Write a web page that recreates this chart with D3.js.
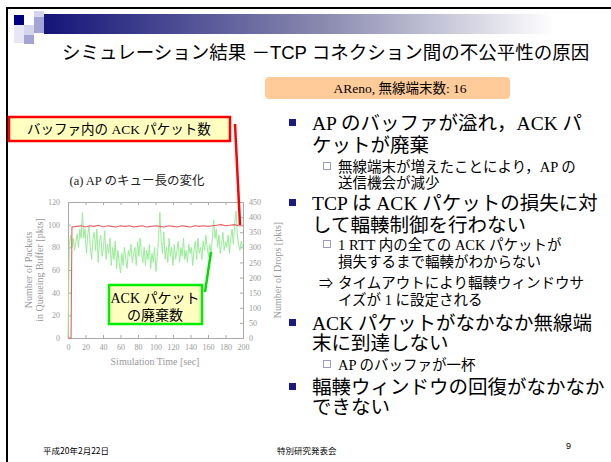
<!DOCTYPE html>
<html><head><meta charset="utf-8">
<script src="https://cdn.jsdelivr.net/npm/d3@7"></script>
<style>html,body{margin:0;padding:0;background:#fff;}svg{display:block;}</style>
</head><body>
<script>
// ---- data ----
const xTicks = [0,20,40,60,80,100,120,140,160,180,200];
const yLeftTicks = [0,20,40,60,80,100,120];
const yRightTicks = [0,50,100,150,200,250,300,350,400,450];
// queue length (left axis)
const redTime = [0,3.5,4.5,10,15,20,25,30,35,40,45,50,55,60,65,70,75,80,85,90,95,100,105,110,115,120,125,130,135,140,145,150,155,160,165,170,175,180,185,190,195,200];
const redVal  = [0,0,98,98.5,99,98,99,98.5,99.5,98,99,98.5,98,99,98.5,99,98,98.5,99,98,98.5,99,98.5,98,99,98.5,98,99,98.5,98,99,98.5,99,98.5,99,99.5,100,99,99.5,100,99,99];
// ACK drops (right axis), one value every 1.5 s
const greenVal = [0,
 310,340,300,330,290,320,345,300,360,330,
 415,330,360,280,340,370,300,260,330,350,
 290,360,250,320,340,270,300,355,260,310,
 280,330,240,300,260,320,230,290,250,215,
 280,240,300,260,230,290,270,310,250,280,
 300,240,320,270,330,280,250,300,240,290,
 260,310,230,280,250,300,220,270,330,415,
 320,280,350,260,300,250,330,270,300,240,
 310,260,290,320,250,300,270,330,260,290,
 250,310,280,300,240,290,320,260,330,280,
 300,260,320,290,340,300,270,310,280,330,
 390,330,360,300,340,280,310,350,290,320,
 300,340,280,330,360,310,380,420,340,310,
 290,320,300];
const greenTime = greenVal.map((d,i)=>i*1.5);

const W=611,H=462;
const svg = d3.select("body").append("svg").attr("width",W).attr("height",H);
const JP = "'Noto Sans CJK JP', sans-serif";
const SERIF = "'Liberation Serif', 'Noto Sans CJK JP', serif";
const SANS = "'Liberation Sans', 'Noto Sans CJK JP', sans-serif";

// ---- slide frame ----
svg.append("rect").attr("x",6).attr("y",7).attr("width",W-6).attr("height",2).attr("fill","#000");
svg.append("rect").attr("x",6).attr("y",7).attr("width",2).attr("height",H-7).attr("fill","#000");
const grad = svg.append("defs").append("linearGradient").attr("id","g1");
grad.append("stop").attr("offset","0%").attr("stop-color","#14147a");
grad.append("stop").attr("offset","55%").attr("stop-color","#8a8ab0");
grad.append("stop").attr("offset","100%").attr("stop-color","#ffffff");
svg.append("rect").attr("x",44).attr("y",14).attr("width",510).attr("height",20).attr("fill","url(#g1)");
const sq = [[14,15,10,10,"#000080"],[34,11,10,6,"#d4d4ec"],[34,17,10,16,"#a4a4d4"],[24,25,10,10,"#d4d4ec"],[14,25,10,18,"#e6e6f4"],[24,35,10,9,"#a4a4d4"]];
sq.forEach(s=>svg.append("rect").attr("x",s[0]).attr("y",s[1]).attr("width",s[2]).attr("height",s[3]).attr("fill",s[4]));

svg.append("text").attr("x",62).attr("y",59).attr("font-family",SANS).attr("font-size",18.5).attr("fill","#000")
  .text("シミュレーション結果 －TCP コネクション間の不公平性の原因");

// orange label
svg.append("rect").attr("x",265).attr("y",77).attr("width",245).attr("height",22).attr("rx",4).attr("fill","#ffcc99");
svg.append("text").attr("x",400).attr("y",93).attr("text-anchor","middle").attr("font-family",SERIF).attr("font-size",13.5).text("AReno, 無線端末数: 16");

// ---- chart ----
const x = d3.scaleLinear().domain([0,200]).range([68,243]);
const yL = d3.scaleLinear().domain([0,120]).range([338,202]);
const yR = d3.scaleLinear().domain([0,450]).range([338,202]);
const axisCol = "#aaa", txtCol="#999";
const g = svg.append("g");
g.append("text").attr("x",137).attr("y",185).attr("text-anchor","middle").attr("font-family",SERIF).attr("font-size",12.5).attr("fill","#222").text("(a) AP のキュー長の変化");

function styleAxis(sel){
  sel.selectAll("path").attr("stroke",axisCol);
  sel.selectAll("line").attr("stroke",axisCol);
  sel.selectAll("text").attr("fill",txtCol).attr("font-family",SERIF).attr("font-size",8);
}
g.append("g").attr("transform","translate(0,338)").call(d3.axisBottom(x).tickValues(xTicks).tickSize(-3).tickSizeOuter(0).tickPadding(6)).call(styleAxis);
g.append("g").attr("transform","translate(0,202)").call(d3.axisTop(x).tickValues(xTicks).tickSize(-3).tickSizeOuter(0).tickFormat("")).call(styleAxis);
g.append("g").attr("transform","translate(68,0)").call(d3.axisLeft(yL).tickValues(yLeftTicks).tickSize(-3).tickSizeOuter(0).tickPadding(8)).call(styleAxis);
g.append("g").attr("transform","translate(243,0)").call(d3.axisRight(yR).tickValues(yRightTicks).tickSize(-3).tickSizeOuter(0).tickPadding(6)).call(styleAxis);

g.append("path").datum(greenTime.map((t,i)=>[t,greenVal[i]]))
  .attr("d",d3.line().x(d=>x(d[0])).y(d=>yR(d[1]))).attr("fill","none").attr("stroke","#98ec98").attr("stroke-width",1);
g.append("path").datum(redTime.map((t,i)=>[t,redVal[i]]))
  .attr("d",d3.line().x(d=>x(d[0])).y(d=>yL(d[1]))).attr("fill","none").attr("stroke","#e86060").attr("stroke-width",1.1);

g.append("text").attr("x",155).attr("y",365).attr("text-anchor","middle").attr("font-family",SERIF).attr("font-size",10).attr("fill",txtCol).text("Simulation Time [sec]");
g.append("text").attr("transform","translate(32,270) rotate(-90)").attr("text-anchor","middle").attr("font-family",SERIF).attr("font-size",10).attr("fill",txtCol).text("Number of Packets");
g.append("text").attr("transform","translate(43,270) rotate(-90)").attr("text-anchor","middle").attr("font-family",SERIF).attr("font-size",10).attr("fill",txtCol).text("in Queueing Buffer [pkts]");
g.append("text").attr("transform","translate(281,270) rotate(-90)").attr("text-anchor","middle").attr("font-family",SERIF).attr("font-size",10).attr("fill",txtCol).text("Number of Drops [pkts]");

// callouts
svg.append("line").attr("x1",235).attr("y1",124).attr("x2",240).attr("y2",225).attr("stroke","#ff0000").attr("stroke-width",2.5);
svg.append("rect").attr("x",9).attr("y",117).attr("width",221).attr("height",24).attr("fill","#ffffc0").attr("stroke","#ff0000").attr("stroke-width",2.5);
svg.append("text").attr("x",119).attr("y",134).attr("text-anchor","middle").attr("font-family",SERIF).attr("font-size",13.5).text("バッファ内の ACK パケット数");

svg.append("line").attr("x1",205).attr("y1",292).attr("x2",211).attr("y2",252).attr("stroke","#00dd00").attr("stroke-width",2.5);
svg.append("rect").attr("x",109).attr("y",285).attr("width",93).attr("height",39).attr("fill","#ffffc0").attr("stroke","#00ee00").attr("stroke-width",2.5);
svg.append("text").attr("x",155).attr("y",303).attr("text-anchor","middle").attr("font-family",SERIF).attr("font-size",14).text("ACK パケット");
svg.append("text").attr("x",155).attr("y",320).attr("text-anchor","middle").attr("font-family",SERIF).attr("font-size",14).text("の廃棄数");

// ---- bullets ----
const main = [
 {y:[130,152], t:["AP のバッファが溢れ，ACK パ","ケットが廃棄"]},
 {y:[210,232], t:["TCP は ACK パケットの損失に対","して輻輳制御を行わない"]},
 {y:[330,350], t:["ACK パケットがなかなか無線端","末に到達しない"]},
 {y:[394,414], t:["輻輳ウィンドウの回復がなかなか","できない"]}
];
main.forEach(b=>{
  svg.append("rect").attr("x",289).attr("y",b.y[0]-11).attr("width",7).attr("height",7).attr("fill","#1a1a80");
  b.t.forEach((s,i)=>svg.append("text").attr("x",312).attr("y",b.y[i]).attr("font-family",SERIF).attr("font-size",19.5).text(s));
});
const subs = [
 {y:[172,188], t:["無線端末が増えたことにより，AP の","送信機会が減少"], m:"box"},
 {y:[250,267], t:["1 RTT 内の全ての ACK パケットが","損失するまで輻輳がわからない"], m:"box"},
 {y:[288,305], t:["タイムアウトにより輻輳ウィンドウサ","イズが 1 に設定される"], m:"arrow"},
 {y:[370], t:["AP のバッファが一杯"], m:"box"}
];
subs.forEach(b=>{
  if(b.m==="box") svg.append("rect").attr("x",323.5).attr("y",b.y[0]-9.5).attr("width",7).attr("height",7).attr("fill","none").attr("stroke","#9a9acc").attr("stroke-width",1);
  else svg.append("text").attr("x",319).attr("y",b.y[0]).attr("font-family",JP).attr("font-size",14).text("⇒");
  b.t.forEach((s,i)=>svg.append("text").attr("x",338).attr("y",b.y[i]).attr("font-family",SERIF).attr("font-size",14.5).text(s));
});

// footer
svg.append("text").attr("x",43).attr("y",454).attr("font-family",JP).attr("font-size",8.5).text("平成20年2月22日");
svg.append("text").attr("x",277).attr("y",454).attr("font-family",JP).attr("font-size",8.5).text("特別研究発表会");
svg.append("text").attr("x",566).attr("y",449).attr("font-family",SANS).attr("font-size",9).text("9");
</script>
</body></html>
